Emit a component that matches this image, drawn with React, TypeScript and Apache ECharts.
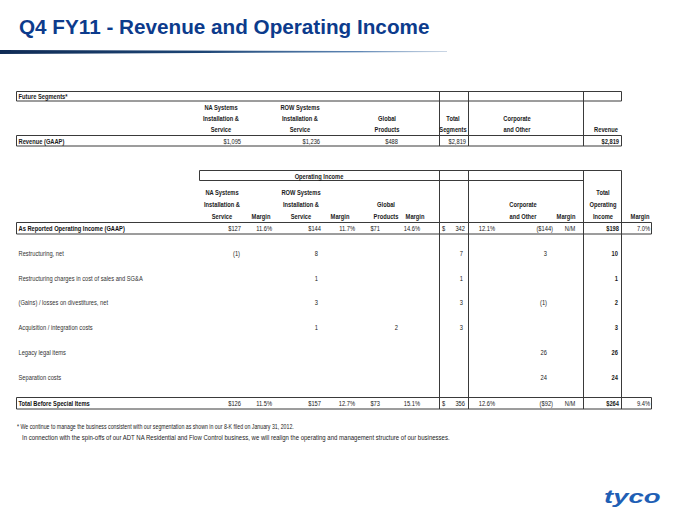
import React, { useEffect, useRef } from "react";
import * as echarts from "echarts";

// ---------- DATA ----------
const title = "Q4 FY11 - Revenue and Operating Income";

const revenueSectionLabel = "Future Segments*";
const revenueHeaders = [
  ["NA Systems", "Installation &", "Service"],
  ["ROW Systems", "Installation &", "Service"],
  ["Global", "Products"],
  ["Total", "Segments"],
  ["Corporate", "and Other"],
  ["Revenue"],
];
const revenueRowLabel = "Revenue (GAAP)";
const revenueValues = ["$1,095", "$1,236", "$488", "$2,819", "", "$2,819"];

const incomeSectionLabel = "Operating Income";
const incomeHeaders = [
  ["NA Systems", "Installation &", "Service"],
  ["Margin"],
  ["ROW Systems", "Installation &", "Service"],
  ["Margin"],
  ["Global", "Products"],
  ["Margin"],
  [],
  [],
  ["Corporate", "and Other"],
  ["Margin"],
  ["Total", "Operating", "Income"],
  ["Margin"],
];

const rowLabels = [
  "As Reported Operating Income (GAAP)",
  "Restructuring, net",
  "Restructuring charges in cost of sales and SG&A",
  "(Gains) / losses on divestitures, net",
  "Acquisition / integration costs",
  "Legacy legal items",
  "Separation costs",
  "Total Before Special Items",
];
const naService = ["$127", "(1)", "", "", "", "", "", "$126"];
const naMargin = ["11.6%", "", "", "", "", "", "", "11.5%"];
const rowService = ["$144", "8", "1", "3", "1", "", "", "$157"];
const rowMargin = ["11.7%", "", "", "", "", "", "", "12.7%"];
const globalProducts = ["$71", "", "", "", "2", "", "", "$73"];
const globalMargin = ["14.6%", "", "", "", "", "", "", "15.1%"];
const totalSegments = ["342", "7", "1", "3", "3", "", "", "356"];
const segmentsMargin = ["12.1%", "", "", "", "", "", "", "12.6%"];
const corporateOther = ["($144)", "3", "", "(1)", "", "26", "24", "($92)"];
const corporateMargin = ["N/M", "", "", "", "", "", "", "N/M"];
const totalIncome = ["$198", "10", "1", "2", "3", "26", "24", "$264"];
const totalMargin = ["7.0%", "", "", "", "", "", "", "9.4%"];

const footnotes = [
  "* We continue to manage the business consistent with our segmentation as shown in our 8-K filed on January 31, 2012.",
  "In connection with the spin-offs of our ADT NA Residential and Flow Control business, we will realign the operating and management structure of our businesses.",
];
const logoText = "tyco";

// ---------- LAYOUT ----------
const SANS = "'Liberation Sans', Arial, Helvetica, sans-serif";
const NARROW_SCALE = 0.82;
const FS = 7;
const INK = "#1a1a1a";
const LINE = "#3a3a3a";

const t1HeadX = [221, 300, 387, 453, 517, 606];
const t1ValX = [241, 320, 398, 466, 0, 619];
const t1HeadY = [107, 118, 129];
const t2HeadX = [222, 261, 301, 340, 386, 415, 0, 0, 523, 566, 603, 640];
const t2HeadY = [192, 204, 216];
const t2MainX = [241, 272, 321, 355, 380, 420, 465, 495, 553, 570, 619, 650];
const t2AdjX = [240, 272, 318, 355, 398, 420, 463, 495, 547, 570, 618, 650];
const rowY = [228, 253, 278, 302, 327, 352, 377, 403];

function txt(text: string, x: number, y: number, o: any = {}) {
  return {
    type: "text",
    x,
    y,
    silent: true,
    scaleX: o.scaleX !== undefined ? o.scaleX : NARROW_SCALE,
    style: {
      text,
      fill: o.fill || INK,
      fontSize: o.size || FS,
      fontFamily: SANS,
      fontWeight: o.bold ? "bold" : "normal",
      fontStyle: o.italic ? "italic" : "normal",
      align: o.align || "left",
      verticalAlign: "middle",
    },
  };
}
function hl(x1: number, x2: number, y: number, w = 1, c = LINE) {
  return { type: "line", silent: true, shape: { x1, y1: y, x2, y2: y }, style: { stroke: c, lineWidth: w } };
}
function vl(x: number, y1: number, y2: number, w = 1, c = LINE) {
  return { type: "line", silent: true, shape: { x1: x, y1, x2: x, y2 }, style: { stroke: c, lineWidth: w } };
}
function box(x1: number, y1: number, x2: number, y2: number) {
  return {
    type: "rect",
    silent: true,
    shape: { x: x1, y: y1, width: x2 - x1, height: y2 - y1 },
    style: { fill: "none", stroke: LINE, lineWidth: 1 },
  };
}

function buildGraphics() {
  const g: any[] = [];

  // title + underline
  g.push(txt(title, 19, 26, { size: 20.7, bold: true, fill: "#0c3b8c", scaleX: 1 }));
  g.push({
    type: "polygon",
    silent: true,
    shape: { points: [[0, 50], [447, 51.2], [447, 52], [0, 54]] },
    style: {
      fill: new echarts.graphic.LinearGradient(0, 0, 1, 0, [
        { offset: 0, color: "#0f2b55" },
        { offset: 0.45, color: "#1d4575" },
        { offset: 0.8, color: "#5e86b4" },
        { offset: 1, color: "#b9c9dc" },
      ]),
    },
  });

  // ----- Table 1 (revenue) -----
  const t1L = 16.5, t1R = 621.5;
  g.push(box(t1L, 91.5, t1R, 101));
  g.push(box(t1L, 135.5, t1R, 146));
  [439.5, 468.5, 583.5].forEach((x) => g.push(vl(x, 91.5, 146)));
  g.push(txt(revenueSectionLabel, 18.5, 96.5, { bold: true }));
  revenueHeaders.forEach((lines, i) => {
    const off = 3 - lines.length;
    lines.forEach((l, j) => g.push(txt(l, t1HeadX[i], t1HeadY[off + j], { bold: true, align: "center" })));
  });
  g.push(txt(revenueRowLabel, 18.5, 141, { bold: true }));
  revenueValues.forEach((v, i) => {
    if (!v) return;
    g.push(txt(v, t1ValX[i], 141, { align: "right", bold: i === 5 }));
  });

  // ----- Table 2 (operating income) -----
  g.push(hl(199.5, 621.5, 170.5));
  g.push(hl(199.5, 583.5, 180.5));
  g.push(vl(199.5, 170.5, 180.5));
  [439.5, 468.5, 583.5, 621.5].forEach((x) => g.push(vl(x, 170.5, 409)));
  g.push(txt(incomeSectionLabel, 319, 175.8, { bold: true, align: "center" }));
  incomeHeaders.forEach((lines, i) => {
    if (!lines.length) return;
    const off = 3 - lines.length;
    lines.forEach((l, j) => g.push(txt(l, t2HeadX[i], t2HeadY[off + j], { bold: true, align: "center" })));
  });
  g.push(box(16.5, 222.5, 651.5, 234));
  g.push(box(16.5, 397.5, 651.5, 409));

  const cols = [
    naService, naMargin, rowService, rowMargin, globalProducts, globalMargin,
    totalSegments, segmentsMargin, corporateOther, corporateMargin, totalIncome, totalMargin,
  ];
  rowLabels.forEach((label, r) => {
    const main = r === 0 || r === rowLabels.length - 1;
    const y = rowY[r];
    g.push(txt(label, 18.5, y, { bold: main, fill: main ? "#111" : "#333" }));
    cols.forEach((col, c) => {
      const v = col[r];
      if (!v) return;
      const xs = main ? t2MainX : t2AdjX;
      const align = c === 9 ? "center" : "right";
      if (c === 6 && main) g.push(txt("$", 442, y, {}));
      g.push(txt(v, xs[c], y, { align, bold: c === 10 }));
    });
  });

  // footnotes
  g.push(txt(footnotes[0], 17, 426, { fill: "#222", scaleX: 0.75 }));
  g.push(txt(footnotes[1], 22, 437.5, { fill: "#222", scaleX: 0.86 }));

  // logo
  g.push(txt(logoText, 604, 496.5, { size: 19, bold: true, italic: true, fill: "#1f5fb5", scaleX: 1.45 }));
  return g;
}

export default function App() {
  const ref = useRef<HTMLDivElement>(null);
  useEffect(() => {
    if (!ref.current) return;
    const chart = echarts.init(ref.current, undefined, { renderer: "svg" });
    chart.setOption({
      animation: false,
      backgroundColor: "#ffffff",
      graphic: { elements: buildGraphics() },
    });
    return () => chart.dispose();
  }, []);
  return (
    <div
      ref={ref}
      style={{ position: "absolute", left: 0, top: 0, width: 680, height: 510, background: "#fff" }}
    />
  );
}
